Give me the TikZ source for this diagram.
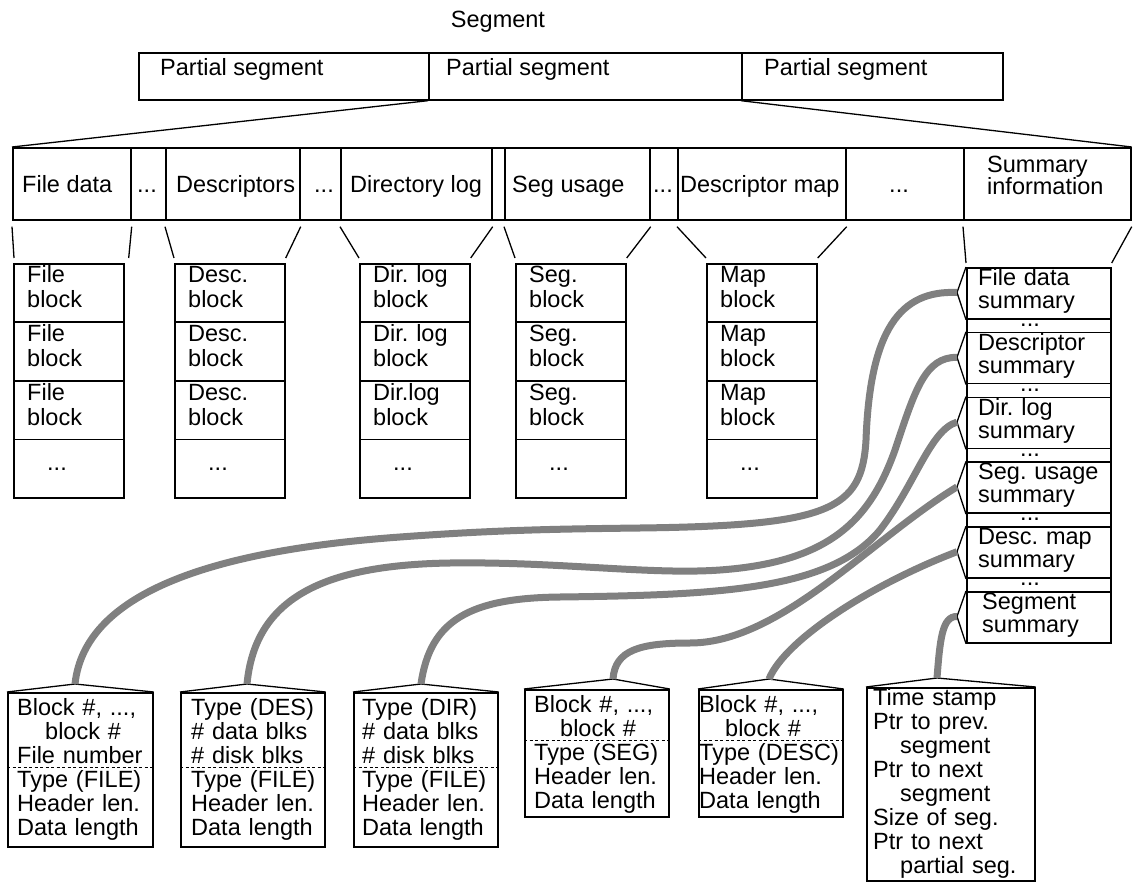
\documentclass[tikz,border=0pt]{standalone}
\usepackage{fontspec}
\setmainfont{Liberation Sans}
\usetikzlibrary{calc}
\definecolor{cgray}{RGB}{128,128,128}
\newcommand\myfs{\fontsize{23.5}{24}\selectfont\frenchspacing}
\newcommand\myfsb{\fontsize{23.5}{25}\selectfont\frenchspacing}
\newcommand\myfss{\fontsize{23.5}{23}\selectfont\frenchspacing}
\frenchspacing
\begin{document}
\begin{tikzpicture}[x=1pt,y=-1pt,
  cell/.style={draw, line width=1.7pt, rectangle, inner sep=0pt, anchor=north west},
  fan/.style={line width=1.3pt},
  lbl/.style={inner sep=0pt, anchor=base west, font=\myfs},
  blbl/.style={inner sep=0pt, anchor=base west, align=left, text width=#1, font=\myfsb},
  mlbl/.style={inner sep=0pt, anchor=base west, align=left, text width=#1, font=\myfs},
  slbl/.style={inner sep=0pt, anchor=base west, align=left, text width=#1, font=\myfss},
  dsh/.style={dash pattern=on 3pt off 2.5pt, line width=1pt},
  curve/.style={draw=cgray, line width=7pt}
]
\useasboundingbox (0,0) rectangle (1135,882);

% ---- top label and partial segments
\node[lbl, anchor=base] (tseg) at (498,28) {Segment};
\node[cell, minimum width=290pt, minimum height=47pt] (p1) at (138,52) {};
\node[cell, minimum width=313pt, minimum height=47pt] (p2) at (428,52) {};
\node[cell, minimum width=261pt, minimum height=47pt] (p3) at (741,52) {};
\node[lbl] (tp1) at (160,76) {Partial segment};
\node[lbl] (tp2) at (446,76) {Partial segment};
\node[lbl] (tp3) at (764,76) {Partial segment};

% ---- middle row
\foreach \n/\a/\b in {c1/12/130, c2/130/165, c3/165/299, c4/299/340, c5/340/491,
  c6/491/504, c7/504/649, c8/649/677, c9/677/845, c10/845/963, c11/963/1130} {
  \pgfmathsetmacro\w{\b-\a}
  \node[cell, minimum width=\w pt, minimum height=72pt] (\n) at (\a,147) {};
}
\draw[fan] (p2.south west) -- (c1.north west);
\draw[fan] (p3.south west) -- (c11.north east);

\node[lbl] (tc1) at (22,193) {File data};
\node[lbl, anchor=base] (tc2) at (147,193) {...};
\node[lbl] (tc3) at (176,193) {Descriptors};
\node[lbl, anchor=base] (tc4) at (324,193) {...};
\node[lbl] (tc5) at (350,193) {Directory log};
\node[lbl] (tc7) at (512,193) {Seg usage};
\node[lbl, anchor=base] (tc8) at (663,193) {...};
\node[lbl] (tc9) at (680,193) {Descriptor map};
\node[lbl, anchor=base] (tc10) at (899,193) {...};
\node[lbl] (tc11a) at (987,173) {Summary};
\node[lbl] (tc11b) at (987,195) {information};

% ---- block columns
\foreach \col/\x/\ta/\tb/\tc in {fb/13/File/File/File, db/174/Desc./Desc./Desc.,
  lb/359/Dir. log/Dir. log/Dir.log, sb/515/Seg./Seg./Seg., mb/706/Map/Map/Map} {
  \foreach \i/\y in {1/263, 2/321.5, 3/380, 4/438.5} {
    \node[cell, minimum width=110pt, minimum height=58.5pt] (\col\i) at (\x,\y) {};
  }
  \node[blbl=95pt] (\col t1) at (\x+14,283) {\ta\\block};
  \node[blbl=95pt] (\col t2) at (\x+14,341.5) {\tb\\block};
  \node[blbl=95pt] (\col t3) at (\x+14,400) {\tc\\block};
  \node[lbl] (\col t4) at (\x+34,470) {...};
}

% fan lines from middle row to columns
\draw[fan] ($(c1.south west)+(0,6)$) -- ($(fb1.north west)+(1,-5)$);
\draw[fan] ($(c1.south east)+(0,6)$) -- ($(fb1.north east)+(4,-5)$);
\draw[fan] ($(c3.south west)+(0,6)$) -- ($(db1.north west)+(0,-5)$);
\draw[fan] ($(c3.south east)+(0,6)$) -- ($(db1.north east)+(0,-5)$);
\draw[fan] ($(c5.south west)+(0,6)$) -- ($(lb1.north west)+(0,-5)$);
\draw[fan] ($(c5.south east)+(0,6)$) -- ($(lb1.north east)+(0,-5)$);
\draw[fan] ($(c7.south west)+(0,6)$) -- ($(sb1.north west)+(0,-5)$);
\draw[fan] ($(c7.south east)+(0,6)$) -- ($(sb1.north east)+(0,-5)$);
\draw[fan] ($(c9.south west)+(0,6)$) -- ($(mb1.north west)+(0,-5)$);
\draw[fan] ($(c9.south east)+(0,6)$) -- ($(mb1.north east)+(0,-5)$);

% ---- summary column
\foreach \i/\ta/\tb/\dx in {1/File data/summary/978, 2/Descriptor/summary/978,
  3/Dir. log/summary/978, 4/Seg. usage/summary/978, 5/Desc. map/summary/978,
  6/Segment/summary/982} {
  \pgfmathsetmacro\yt{267+64.8*(\i-1)}
  \node[cell, minimum width=144pt, minimum height=51pt] (sm\i) at (966,\yt) {};
  \coordinate (tip\i) at (957,\yt+25.5);
  \draw[fan] (sm\i.north west) -- (tip\i) -- (sm\i.south west);
  \node[slbl=125pt] (smt\i) at (\dx,\yt+18.5) {\ta\\\tb};
}
\foreach \i in {1,2,3,4,5} {
  \pgfmathsetmacro\yb{267+64.8*(\i-1)+51}
  \node[cell, minimum width=144pt, minimum height=13.8pt] (sd\i) at (966,\yb) {};
  \node[lbl, anchor=base] (sdt\i) at (1030,\yb+8.5) {...};
}
\draw[fan] ($(c11.south west)+(0,6)$) -- ($(sm1.north west)+(0,-4)$);
\draw[fan] ($(c11.south east)+(0,6)$) -- ($(sm1.north east)+(0,-4)$);

% ---- bottom boxes
\node[cell, minimum width=145pt, minimum height=154pt] (b1) at (7,692) {};
\node[cell, minimum width=144pt, minimum height=154pt] (b2) at (180,692) {};
\node[cell, minimum width=144pt, minimum height=154pt] (b3) at (353,692) {};
\node[cell, minimum width=144pt, minimum height=127pt] (b4) at (524,689) {};
\node[cell, minimum width=144pt, minimum height=127pt] (b5) at (698,689) {};
\node[cell, minimum width=168pt, minimum height=193pt] (b6) at (866,687) {};
\coordinate (a1) at (75,684);
\coordinate (a2) at (247,684);
\coordinate (a3) at (421,684);
\coordinate (a4) at (613,679);
\coordinate (a5) at (769,679);
\coordinate (a6) at (937,678);
\foreach \k in {1,...,6} {
  \draw[fan] (b\k.north west) -- (a\k) -- (b\k.north east);
}
\draw[dsh] (b1.west |- 0,767) -- (b1.east |- 0,767);
\draw[dsh] (b2.west |- 0,767) -- (b2.east |- 0,767);
\draw[dsh] (b3.west |- 0,767) -- (b3.east |- 0,767);
\draw[dsh] (b4.west |- 0,740) -- (b4.east |- 0,740);
\draw[dsh] (b5.west |- 0,740) -- (b5.east |- 0,740);

\node[mlbl=140pt] (bt1) at (17,715) {Block \#, ...,\\\hspace*{28pt}block \#\\File number\\Type (FILE)\\Header len.\\Data length};
\node[mlbl=140pt] (bt2) at (191,715) {Type (DES)\\\# data blks\\\# disk blks\\Type (FILE)\\Header len.\\Data length};
\node[mlbl=140pt] (bt3) at (362,715) {Type (DIR)\\\# data blks\\\# disk blks\\Type (FILE)\\Header len.\\Data length};
\node[mlbl=142pt] (bt4) at (534,712) {Block \#, ...,\\\hspace*{26pt}block \#\\Type (SEG)\\Header len.\\Data length};
\node[mlbl=143pt] (bt5) at (699,712) {Block \#, ...,\\\hspace*{26pt}block \#\\Type (DESC)\\Header len.\\Data length};
\node[mlbl=160pt] (bt6) at (873,705) {Time stamp\\Ptr to prev.\\\hspace*{27pt}segment\\Ptr to next\\\hspace*{27pt}segment\\Size of seg.\\Ptr to next\\\hspace*{27pt}partial seg.};

% ---- grey connectors
\draw[curve] (a1) .. controls (85,590) and (220,550) .. (400,537)
  .. controls (500,529.7) and (560,529) .. (640,528)
  .. controls (830,525.6) and (862,510) .. (866,440)
  .. controls (870,330) and (900,290) .. (tip1);
\draw[curve] (a2) .. controls (255,600) and (320,565) .. (450,563)
  .. controls (560,561.5) and (650,575) .. (720,570)
  .. controls (830,562) and (870,520) .. (895,450)
  .. controls (915,390) and (925,357) .. (tip2);
\draw[curve] (a3) .. controls (430,620) and (470,598) .. (560,597)
  .. controls (720,595) and (830,590) .. (880,530)
  .. controls (915,485) and (930,430) .. (tip3);
\draw[curve] (a4) .. controls (615,650) and (640,643) .. (690,643)
  .. controls (780,643) and (870,540) .. (tip4);
\draw[curve] (a5) .. controls (785,640) and (870,585) .. (tip5);
\draw[curve] (a6) .. controls (940,640) and (942,616) .. (tip6);
\end{tikzpicture}
\end{document}
